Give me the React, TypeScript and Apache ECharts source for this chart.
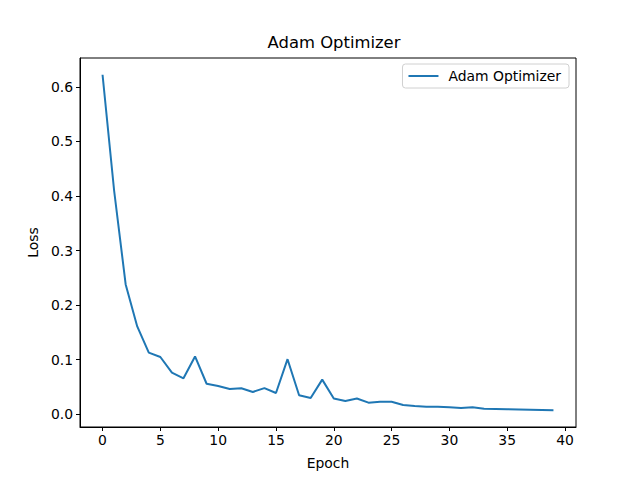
import React, { useEffect, useRef } from "react";
import * as echarts from "echarts";

const epochs: number[] = Array.from({ length: 40 }, (_, i) => i);
const loss: number[] = [
  0.622, 0.41, 0.238, 0.161, 0.113, 0.105, 0.0765, 0.066, 0.106, 0.056,
  0.052, 0.0465, 0.0477, 0.041, 0.048, 0.039, 0.101, 0.035, 0.03, 0.0636,
  0.029, 0.0245, 0.029, 0.0214, 0.023, 0.023, 0.017, 0.0153, 0.014, 0.014,
  0.0128, 0.0116, 0.0128, 0.0104, 0.0098, 0.0092, 0.009, 0.0085, 0.008, 0.0075,
];
const xTicks: number[] = [0, 5, 10, 15, 20, 25, 30, 35, 40];
const yTicks: number[] = [0, 0.1, 0.2, 0.3, 0.4, 0.5, 0.6];
const seriesName = "Adam Optimizer";
const titleText = "Adam Optimizer";

export default function App() {
  const ref = useRef<HTMLDivElement>(null);
  useEffect(() => {
    if (!ref.current) return;
    const chart = echarts.init(ref.current, null, { renderer: "svg" });
    const font = "DejaVu Sans";
    chart.setOption({
      animation: false,
      backgroundColor: "#fff",
      textStyle: { fontFamily: font },
      title: {
        text: titleText,
        left: 329,
        top: 29,
        textAlign: "center",
        textStyle: { fontFamily: font, fontSize: 16.4, fontWeight: "normal", color: "#000" },
      },
      legend: {
        data: [seriesName],
        right: 71,
        top: 64,
        orient: "vertical",
        itemWidth: 30,
        itemHeight: 2,
        itemGap: 0,
        padding: [5, 8, 5, 6],
        borderColor: "#d0d0d0",
        borderWidth: 1,
        borderRadius: 3,
        icon: "rect",
        textStyle: { fontFamily: font, fontSize: 13.9, color: "#000", padding: [0, 0, 0, 5] },
      },
      grid: {
        left: 80,
        top: 58,
        width: 496,
        height: 369,
        show: true,
        borderColor: "#000",
        borderWidth: 1,
        containLabel: false,
      },
      xAxis: {
        type: "value",
        min: -1.95,
        max: 40.95,
        name: "Epoch",
        nameLocation: "middle",
        nameGap: 29,
        nameTextStyle: { fontFamily: font, fontSize: 13.9, color: "#000" },
        splitLine: { show: false },
        axisLine: { show: true, onZero: false, lineStyle: { color: "#000", width: 1 } },
        axisTick: { show: true, length: 4, customValues: xTicks, lineStyle: { color: "#000" } },
        axisLabel: {
          customValues: xTicks,
          margin: 6,
          fontFamily: font,
          fontSize: 13.9,
          color: "#000",
          formatter: (v: number) => String(v),
        },
      },
      yAxis: {
        type: "value",
        min: -0.0232,
        max: 0.6527,
        name: "Loss",
        nameLocation: "middle",
        nameGap: 39,
        nameRotate: 90,
        nameTextStyle: { fontFamily: font, fontSize: 13.9, color: "#000" },
        splitLine: { show: false },
        axisLine: { show: true, onZero: false, lineStyle: { color: "#000", width: 1 } },
        axisTick: { show: true, length: 4, customValues: yTicks, lineStyle: { color: "#000" } },
        axisLabel: {
          customValues: yTicks,
          margin: 7,
          fontFamily: font,
          fontSize: 13.9,
          color: "#000",
          formatter: (v: number) => v.toFixed(1),
        },
      },
      series: [
        {
          name: seriesName,
          type: "line",
          data: epochs.map((e, i) => [e, loss[i]]),
          showSymbol: false,
          symbol: "none",
          color: "#1f77b4",
          lineStyle: { color: "#1f77b4", width: 2 },
        },
      ],
    });
    return () => chart.dispose();
  }, []);
  return <div ref={ref} style={{ width: 640, height: 480, position: "absolute", left: 0, top: 0 }} />;
}
